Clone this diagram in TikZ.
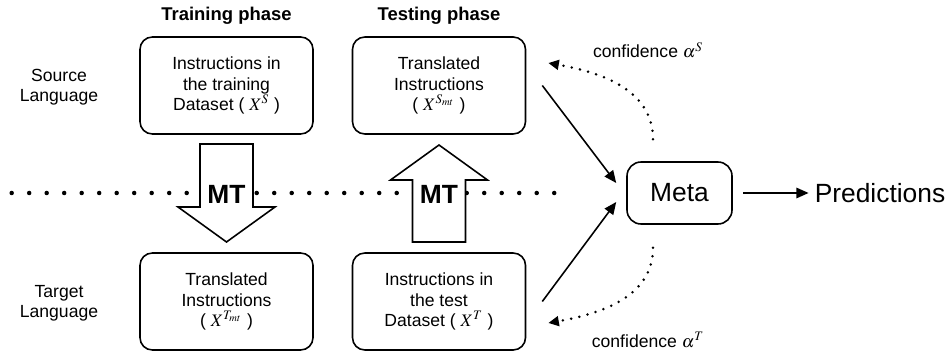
\documentclass[tikz,border=0pt]{standalone}
\usepackage{mathptmx}
\usepackage{fontspec}
\setmainfont{Liberation Sans}
\usetikzlibrary{arrows.meta,positioning}
\tikzset{
    databox/.style={draw,line width=0.9pt,rounded corners=7pt,minimum width=3.46cm,minimum height=1.94cm,inner sep=0pt,align=center,font=\fontsize{10}{11.5}\selectfont},
    sidelabel/.style={align=center,font=\fontsize{10}{11.5}\selectfont},
    phaselabel/.style={font=\fontsize{10.5}{12}\selectfont\bfseries},
    mtarrow/.style={draw,line width=0.9pt,fill=white},
    mtlabel/.style={font=\fontsize{15}{18}\selectfont\bfseries,inner sep=1pt},
    metabox/.style={draw,line width=0.9pt,rounded corners=8pt,minimum width=2.1cm,minimum height=1.24cm,font=\fontsize{15}{18}\selectfont},
    conflabel/.style={font=\fontsize{10}{12}\selectfont},
    dotarrow/.style={-{Triangle[length=6pt,width=5.5pt]},line width=1.6pt,dash pattern=on 0pt off 4.8pt,line cap=round},
}
\begin{document}
\begin{tikzpicture}[>={Triangle[length=7pt,width=6pt]}]
        \useasboundingbox (0,0) rectangle (18.92,-7.08);
        % line of dots between the two languages
        \foreach \x in {0.234,0.584,...,11.2}
            {\fill(\x,-3.86)circle(0.045);}
        % data boxes
        \node[databox] (train) at (4.53,-1.71) {Instructions in\\the training\\Dataset ( $X^S$ )};
        \node[databox] (transS) at (8.78,-1.71) {Translated\\Instructions\\( $X^{S_{mt}}$ )};
        \node[databox] (transT) at (4.53,-6.03) {Translated\\Instructions\\( $X^{T_{mt}}$ )};
        \node[databox] (test) at (8.78,-6.03) {Instructions in\\the test\\Dataset ( $X^T$ )};
        \node[phaselabel,above=0.12cm of train] (trainph) {Training phase};
        \node[phaselabel,above=0.12cm of transS] (testph) {Testing phase};
        \node[sidelabel] (src) at (1.18,-1.74) {Source\\Language};
        \node[sidelabel] (tgt) at (1.18,-6.06) {Target\\Language};
        % MT arrows
        \draw[mtarrow](4.0,-2.88)--(5.06,-2.88)--(5.06,-4.14)--(5.5,-4.14)--(4.53,-4.84)--(3.56,-4.14)--(4.0,-4.14)--cycle;
        \draw[mtarrow](8.25,-4.84)--(9.31,-4.84)--(9.31,-3.6)--(9.75,-3.6)--(8.78,-2.9)--(7.81,-3.6)--(8.25,-3.6)--cycle;
        \node[mtlabel] (mtdown) at (4.53,-3.88) {MT};
        \node[mtlabel] (mtup) at (8.78,-3.88) {MT};
        % meta model
        \node[metabox] (meta) at (13.59,-3.86) {Meta};
        \node[font=\fontsize{15}{18}\selectfont] (pred) at (17.6,-3.86) {Predictions};
        \draw[->,line width=0.9pt,shorten <=6pt] (meta) -- (pred);
        \draw[->,line width=0.9pt] ([xshift=0.32cm]transS.east) -- ([xshift=-0.2cm,yshift=0.2cm]meta.west);
        \draw[->,line width=0.9pt] ([xshift=0.32cm]test.east) -- ([xshift=-0.2cm,yshift=-0.18cm]meta.west);
        % confidences
        \draw[dotarrow] ([xshift=-0.53cm,yshift=0.44cm]meta.north) to[out=90,in=-10] ([xshift=0.44cm,yshift=0.45cm]transS.east);
        \draw[dotarrow] ([xshift=-0.53cm,yshift=-0.46cm]meta.south) to[out=-90,in=10] ([xshift=0.44cm,yshift=-0.43cm]test.east);
        \node[conflabel] (confS) at (12.96,-1.0) {confidence $\alpha^S$};
        \node[conflabel] (confT) at (12.96,-6.8) {confidence $\alpha^T$};
\end{tikzpicture}
\end{document}
